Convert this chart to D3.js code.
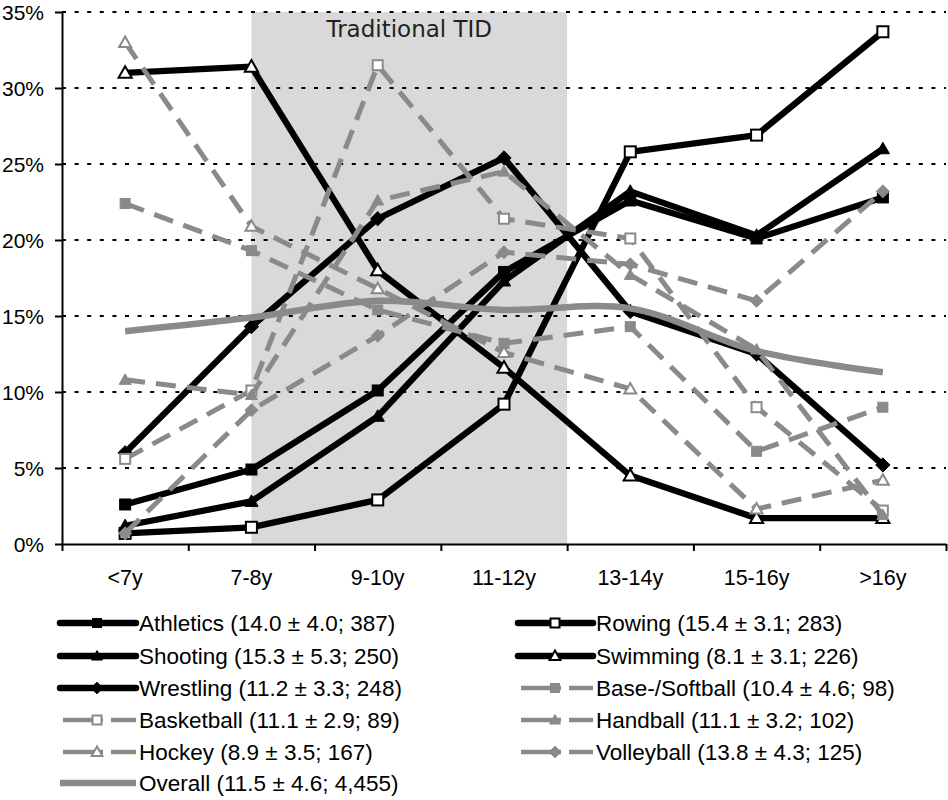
<!DOCTYPE html>
<html><head><meta charset="utf-8">
<script src="https://cdn.jsdelivr.net/npm/d3@7/dist/d3.min.js"></script>
<style>body{margin:0;background:#fff}svg{display:block}</style>
</head><body><svg id="c" width="948" height="800"></svg>
<script>
const categories = ["<7y","7-8y","9-10y","11-12y","13-14y","15-16y",">16y"];
const yTicks = [0,5,10,15,20,25,30,35];
const athletics  = [2.6, 4.9, 10.1, 17.9, 22.6, 20.1, 22.8];
const rowing     = [0.7, 1.1, 2.9, 9.2, 25.8, 26.9, 33.7];
const shooting   = [1.2, 2.8, 8.4, 17.3, 23.2, 20.3, 26.0];
const swimming   = [31.0, 31.4, 18.0, 11.6, 4.5, 1.7, 1.7];
const wrestling  = [6.0, 14.3, 21.4, 25.4, 15.3, 12.5, 5.2];
const softball   = [22.4, 19.3, 15.4, 13.2, 14.3, 6.1, 9.0];
const basketball = [5.6, 10.1, 31.5, 21.4, 20.1, 9.0, 2.2];
const handball   = [10.8, 9.8, 22.6, 24.5, 17.7, 12.8, 1.9];
const hockey     = [33.0, 20.9, 16.8, 12.6, 10.2, 2.3, 4.2];
const volleyball = [0.7, 8.8, 13.7, 19.2, 18.4, 16.0, 23.2];
const overall    = [14.0, 14.9, 16.0, 15.4, 15.5, 12.7, 11.3];
const seriesNames = ["Athletics (14.0 ± 4.0; 387)","Rowing (15.4 ± 3.1; 283)","Shooting (15.3 ± 5.3; 250)","Swimming (8.1 ± 3.1; 226)","Wrestling (11.2 ± 3.3; 248)","Base-/Softball (10.4 ± 4.6; 98)","Basketball (11.1 ± 2.9; 89)","Handball (11.1 ± 3.2; 102)","Hockey (8.9 ± 3.5; 167)","Volleyball (13.8 ± 4.3; 125)","Overall (11.5 ± 4.6; 4,455)"];
const shadeLabel = "Traditional TID";

const BLACK="#000", GRAY="#8a8a8a";
const series = [
 {name:seriesNames[0], values:athletics,  color:BLACK, dash:null, marker:"square",   fill:"full"},
 {name:seriesNames[1], values:rowing,     color:BLACK, dash:null, marker:"square",   fill:"open"},
 {name:seriesNames[2], values:shooting,   color:BLACK, dash:null, marker:"triangle", fill:"full"},
 {name:seriesNames[3], values:swimming,   color:BLACK, dash:null, marker:"triangle", fill:"open"},
 {name:seriesNames[4], values:wrestling,  color:BLACK, dash:null, marker:"diamond",  fill:"full"},
 {name:seriesNames[5], values:softball,   color:GRAY,  dash:"20,11", marker:"square",   fill:"full"},
 {name:seriesNames[6], values:basketball, color:GRAY,  dash:"20,11", marker:"square",   fill:"open"},
 {name:seriesNames[7], values:handball,   color:GRAY,  dash:"20,11", marker:"triangle", fill:"full"},
 {name:seriesNames[8], values:hockey,     color:GRAY,  dash:"20,11", marker:"triangle", fill:"open"},
 {name:seriesNames[9], values:volleyball, color:GRAY,  dash:"20,11", marker:"diamond",  fill:"full"},
 {name:seriesNames[10],values:overall,    color:GRAY,  dash:null, marker:null, fill:null, overall:true}
];

const svg = d3.select("#c");
const L=62, R=946, T=12, B=544;
const xb = d3.scaleBand().domain(categories).range([L,R]).paddingInner(0).paddingOuter(0);
const xc = c => xb(c)+xb.bandwidth()/2;
const y = d3.scaleLinear().domain([0,35]).range([B,T]);
const FONT = "'Liberation Sans', Arial, sans-serif";

// shaded region
svg.append("rect").attr("x", xc("7-8y")).attr("y", y(35))
  .attr("width", xb("13-14y")-xc("7-8y")).attr("height", y(0)-y(35))
  .attr("fill","#d9d9d9");
svg.append("text").attr("x",(xc("7-8y")+xb("13-14y"))/2).attr("y",37)
  .attr("text-anchor","middle").attr("font-family","'DejaVu Sans', sans-serif")
  .attr("font-size",23).attr("fill","#222").text(shadeLabel);

// gridlines
svg.append("g").selectAll("line").data(yTicks.filter(d=>d>0)).join("line")
  .attr("x1",L).attr("x2",R).attr("y1",d=>y(d)).attr("y2",d=>y(d))
  .attr("stroke","#000").attr("stroke-width",2).attr("stroke-dasharray","4,8.6");

// y axis
const ya = svg.append("g").attr("transform",`translate(${L},0)`)
  .call(d3.axisLeft(y).tickValues(yTicks).tickFormat(d=>d+"%").tickSize(7).tickSizeOuter(0));
ya.select(".domain").attr("stroke-width",2);
ya.selectAll(".tick line").attr("stroke-width",2);
ya.selectAll("text").attr("font-family",FONT).attr("font-size",21).attr("fill","#000").attr("x",-18).attr("dy","0.36em");

// x axis (ticks at boundaries)
const xi = d3.scaleLinear().domain([0,categories.length]).range([L,R]);
const xa = svg.append("g").attr("transform",`translate(0,${B})`)
  .call(d3.axisBottom(xi).tickValues(d3.range(categories.length+1)).tickFormat("").tickSize(7).tickSizeOuter(0));
xa.select(".domain").attr("stroke-width",2);
xa.selectAll(".tick line").attr("stroke-width",2);
svg.append("g").selectAll("text").data(categories).join("text")
  .attr("x",d=>xc(d)).attr("y",585).attr("text-anchor","middle")
  .attr("font-family",FONT).attr("font-size",21.5).text(d=>d);

function marker(g, type, fill, color, cx, cy, s){
  const f = fill==="open" ? "#fff" : color;
  const sw = fill==="open" ? 2 : 1;
  if(type==="square"){
    g.append("rect").attr("x",cx-s/2).attr("y",cy-s/2).attr("width",s).attr("height",s)
      .attr("fill",f).attr("stroke",color).attr("stroke-width",sw);
  } else if(type==="triangle"){
    const h=s*1.0;
    g.append("path").attr("d",`M${cx},${cy-h*0.6}L${cx+s*0.6},${cy+h*0.45}L${cx-s*0.6},${cy+h*0.45}Z`)
      .attr("fill",f).attr("stroke",color).attr("stroke-width",sw);
  } else if(type==="diamond"){
    const r=s*0.65;
    g.append("path").attr("d",`M${cx},${cy-r}L${cx+r},${cy}L${cx},${cy+r}L${cx-r},${cy}Z`)
      .attr("fill",f).attr("stroke",color).attr("stroke-width",sw);
  }
}

const lineGen = d3.line().x((d,i)=>xc(categories[i])).y(d=>y(d));
const smoothGen = d3.line().x((d,i)=>xc(categories[i])).y(d=>y(d)).curve(d3.curveCatmullRom.alpha(0.5));

const plot = svg.append("g");
series.forEach(s=>{
  const g = plot.append("g");
  const black = s.color===BLACK;
  g.append("path").attr("d",(s.overall?smoothGen:lineGen)(s.values))
    .attr("fill","none").attr("stroke",s.color)
    .attr("stroke-width", s.overall?6.5:(black?6.3:5))
    .attr("stroke-dasharray",s.dash).attr("stroke-linejoin","round");
  if(s.marker){
    s.values.forEach((v,i)=>marker(g,s.marker,s.fill,s.color,xc(categories[i]),y(v),black?11:10));
  }
});

// legend
const legRows = [623,656,688,720,752,783];
series.forEach((s,i)=>{
  let col, row;
  if(i===10){col=0;row=5;} else {col=i%2; row=Math.floor(i/2);}
  const black = s.color===BLACK && !s.overall;
  const x0 = col===0?(black||s.overall?60:63):(black?518:521);
  const x1 = col===0?136:593;
  const mx = col===0?97:555;
  const cy = legRows[row];
  const g = svg.append("g");
  g.append("line").attr("x1",x0).attr("x2",x1).attr("y1",cy).attr("y2",cy)
    .attr("stroke",s.color).attr("stroke-width",s.overall?6.5:(black?6.5:4.5))
    .attr("stroke-linecap",black?"round":"butt")
    .attr("stroke-dasharray",s.dash?"40,8":null);
  if(s.marker) marker(g,s.marker,s.fill,s.color,mx,cy,9);
  g.append("text").attr("x",x1+3).attr("y",cy+7.5).attr("font-family",FONT)
    .attr("font-size",22.5).text(s.name);
});
</script></body></html>
